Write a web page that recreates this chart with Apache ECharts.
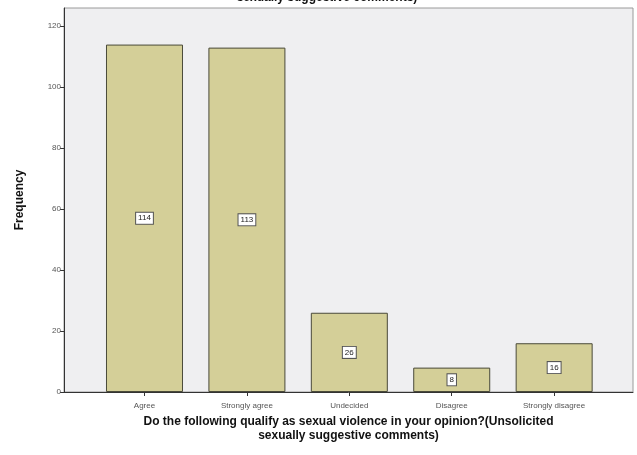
<!DOCTYPE html>
<html>
<head>
<meta charset="utf-8">
<script src="https://cdn.jsdelivr.net/npm/echarts@6/dist/echarts.min.js"></script>
<style>
  html, body { margin: 0; padding: 0; background: #ffffff; }
  #chart { width: 637px; height: 455px; }
</style>
</head>
<body>
<div id="chart"></div>
<script>
// Response categories and their counts
const categories = ['Agree', 'Strongly agree', 'Undecided', 'Disagree', 'Strongly disagree'];
const frequencies = [114, 113, 26, 8, 16];
const yTicks = [0, 20, 40, 60, 80, 100, 120];

const FONT = '"Liberation Sans", Arial, sans-serif';

const chart = echarts.init(document.getElementById('chart'));

// Bars sit on a numeric x scale so the outer padding of the frame can be wider than the bar spacing
const barData = frequencies.map((v, i) => [i, v]);

chart.setOption({
  animation: false,
  backgroundColor: '#ffffff',
  title: {
    text: 'sexually suggestive comments)',
    left: 322,
    textAlign: 'center',
    top: -13,
    textStyle: { fontFamily: FONT, fontSize: 12, fontWeight: 'bold', color: '#111' }
  },
  grid: {
    left: 64, right: 4, top: 8, bottom: 63,
    show: true,
    backgroundColor: '#efeff1',
    borderColor: '#9a9a9a',
    borderWidth: 1
  },
  xAxis: {
    type: 'value',
    min: -0.786,
    max: 4.77,
    splitLine: { show: false },
    axisLine: { show: true, onZero: false, lineStyle: { color: '#333', width: 1 } },
    axisTick: { show: true, length: 4, inside: false, customValues: [0, 1, 2, 3, 4], lineStyle: { color: '#333' } },
    axisLabel: {
      customValues: [0, 1, 2, 3, 4],
      formatter: v => categories[Math.round(v)] || '',
      fontFamily: FONT, fontSize: 8, color: '#555', margin: 10
    },
    name: 'Do the following qualify as sexual violence in your opinion?(Unsolicited\nsexually suggestive comments)',
    nameLocation: 'middle',
    nameGap: 22,
    nameTextStyle: { fontFamily: FONT, fontSize: 12, fontWeight: 'bold', color: '#111', lineHeight: 14 }
  },
  yAxis: {
    type: 'value',
    min: 0,
    max: 126,
    splitLine: { show: false },
    axisLine: { show: true, onZero: false, lineStyle: { color: '#333', width: 1 } },
    axisTick: { show: true, length: 4, customValues: yTicks, lineStyle: { color: '#333' } },
    axisLabel: { customValues: yTicks, fontFamily: FONT, fontSize: 8, color: '#555', margin: 3 },
    name: 'Frequency',
    nameLocation: 'middle',
    nameGap: 38,
    nameRotate: 90,
    nameTextStyle: { fontFamily: FONT, fontSize: 12, fontWeight: 'bold', color: '#111' }
  },
  series: [{
    type: 'bar',
    data: barData,
    barWidth: 77,
    itemStyle: { color: '#d4cf98', borderColor: '#4a4a3a', borderWidth: 1 },
    label: {
      show: true,
      position: 'inside',
      formatter: p => String(p.value[1]),
      fontFamily: FONT,
      fontSize: 8,
      color: '#222',
      backgroundColor: '#ffffff',
      borderColor: '#555',
      borderWidth: 1,
      padding: [2, 2, 1, 2]
    }
  }]
});
</script>
</body>
</html>
